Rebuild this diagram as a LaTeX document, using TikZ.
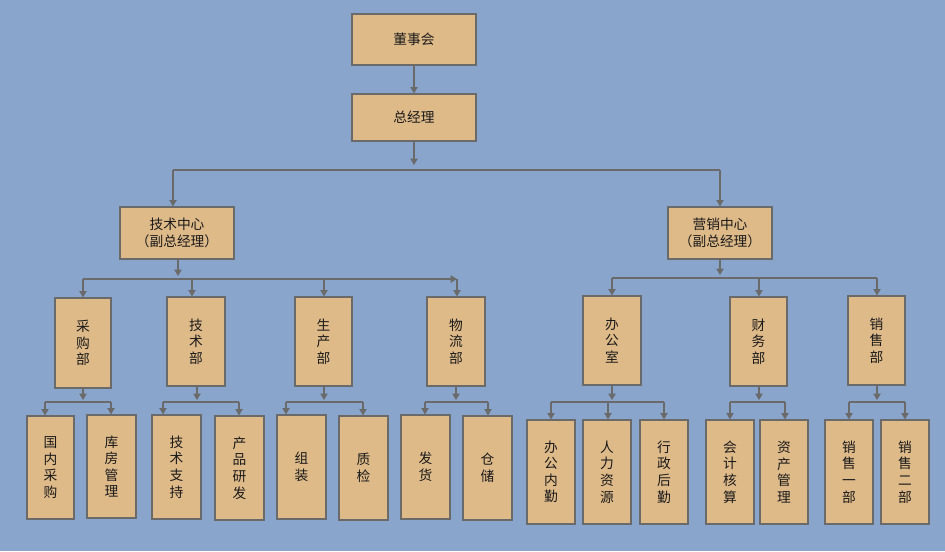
\documentclass[tikz,border=0pt]{standalone}
\usepackage{fontspec}
\newfontfamily\cjk{Noto Sans CJK SC}
\usetikzlibrary{arrows.meta,shadows}
\definecolor{bgc}{HTML}{8AA5CC}
\definecolor{boxc}{HTML}{DFBA89}
\definecolor{edgec}{HTML}{6A6A6A}
\definecolor{txtc}{HTML}{1A1A1A}
\newcommand\bx[6]{\node[box, minimum width={(#4-#2)*0.75pt}, minimum height={(#5-#3)*0.75pt}] (#1) at ({(#2+#4)/2},{(#3+#5)/2}) {#6};}
\begin{document}
\begin{tikzpicture}[x=0.75pt,y=-0.75pt,
  box/.style={draw=edgec, fill=boxc, line width=0.9pt, inner sep=0pt, align=center,
    text=txtc, font=\cjk\fontsize{10.3}{12.4}\selectfont,
    drop shadow={shadow xshift=1pt, shadow yshift=-1pt, opacity=0.25, fill=black}},
  ln/.style={draw=edgec, line width=0.9pt},
  arr/.style={ln, -{Triangle[width=5.5pt,length=4.8pt]}}]
\fill[bgc] (0,0) rectangle (945,551);
\useasboundingbox (0,0) rectangle (945,551);
% level 0-1
\bx{dsh}{352}{14}{476}{65}{董事会}
\bx{zjl}{352}{94}{476}{141}{总经理}
\bx{jszx}{120}{207}{234}{259}{技术中心\\（副总经理）}
\bx{yxzx}{668}{207}{772}{259}{营销中心\\（副总经理）}
% level 2
\bx{cgb}{55}{298}{111}{388}{采\\购\\部}
\bx{jsb}{167}{297}{225}{386}{技\\术\\部}
\bx{scb}{295}{297}{352}{386}{生\\产\\部}
\bx{wlb}{427}{297}{485}{386}{物\\流\\部}
\bx{bgs}{583}{296}{641}{385}{办\\公\\室}
\bx{cwb}{730}{297}{787}{386}{财\\务\\部}
\bx{xsb}{848}{296}{905}{385}{销\\售\\部}
% level 3
\bx{gncg}{27}{416}{74}{519}{国\\内\\采\\购}
\bx{kfgl}{87}{415}{136}{518}{库\\房\\管\\理}
\bx{jszc}{152}{415}{201}{519}{技\\术\\支\\持}
\bx{cpyf}{215}{416}{264}{520}{产\\品\\研\\发}
\bx{zz}{277}{415}{326}{519}{组\\装}
\bx{zj}{339}{416}{388}{520}{质\\检}
\bx{fh}{401}{415}{450}{519}{发\\货}
\bx{cc}{463}{416}{512}{520}{仓\\储}
\bx{bgnq}{527}{420}{575}{524}{办\\公\\内\\勤}
\bx{rlzy}{583}{420}{631}{524}{人\\力\\资\\源}
\bx{xzhq}{640}{420}{688}{524}{行\\政\\后\\勤}
\bx{kjhs}{706}{420}{754}{524}{会\\计\\核\\算}
\bx{zcgl}{760}{420}{808}{524}{资\\产\\管\\理}
\bx{xsyb}{825}{420}{873}{524}{销\\售\\一\\部}
\bx{xseb}{881}{420}{929}{524}{销\\售\\二\\部}
% top connectors
\draw[arr] (dsh) -- (zjl);
\coordinate (t0) at (414,165);
\draw[arr] (zjl.south) -- (t0);
\coordinate (b0l) at (173,170);
\coordinate (b0r) at (720,170);
\draw[ln] (b0l) -- (b0r);
\draw[arr] (b0l) -- (b0l |- jszx.north);
\draw[arr] (b0r) -- (b0r |- yxzx.north);
% technology centre
\coordinate (t1) at (178,276);
\draw[arr] (t1 |- jszx.south) -- (t1);
\coordinate (b1l) at (83,279);
\coordinate (b1r) at (457,279);
\draw[arr] (b1l) -- (b1r);
\foreach \x/\n in {83/cgb,192/jsb,324/scb,457/wlb}{
  \coordinate (d) at (\x,279);
  \draw[arr] (d) -- (d |- \n.north);
}
% marketing centre
\coordinate (t2) at (720,275);
\draw[arr] (t2 |- yxzx.south) -- (t2);
\coordinate (b2l) at (612,278);
\coordinate (b2r) at (877,278);
\draw[ln] (b2l) -- (b2r);
\foreach \x/\n in {612/bgs,759/cwb,877/xsb}{
  \coordinate (d) at (\x,278);
  \draw[arr] (d) -- (d |- \n.north);
}
% level 3 groups
\foreach \px/\p/\xl/\xr in {83/cgb/45/111, 197/jsb/163/239, 324/scb/286/363, 456/wlb/425/488, 612/bgs/551/664, 759/cwb/730/785, 877/xsb/849/905}{
  \coordinate (t) at (\px,400);
  \draw[arr] (t |- \p.south) -- (t);
  \coordinate (bl) at (\xl,402);
  \coordinate (br) at (\xr,402);
  \draw[ln] (bl) -- (br);
}
\foreach \x/\n in {45/gncg,111/kfgl,163/jszc,239/cpyf,286/zz,363/zj,425/fh,488/cc,551/bgnq,608/rlzy,664/xzhq,730/kjhs,785/zcgl,849/xsyb,905/xseb}{
  \coordinate (d) at (\x,402);
  \draw[arr] (d) -- (d |- \n.north);
}
\end{tikzpicture}
\end{document}
